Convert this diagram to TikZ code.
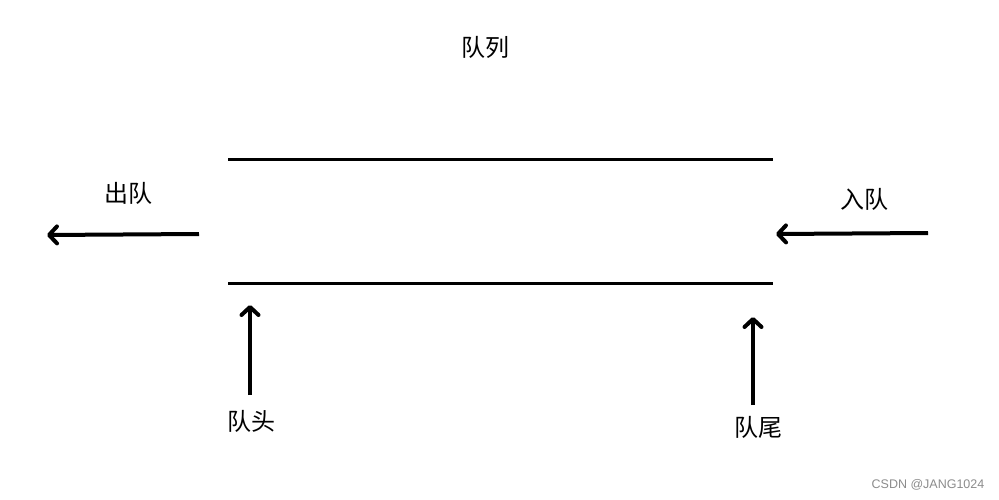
\documentclass[tikz,border=0pt]{standalone}
\usepackage{fontspec}
\newfontfamily\cjk{Noto Sans CJK SC}
\newfontfamily\wm{Liberation Sans}
\usetikzlibrary{arrows.meta}
\begin{document}
\begin{tikzpicture}[x=1pt,y=-1pt,
  lbl/.style={font=\cjk\fontsize{24}{24}\selectfont, inner sep=0pt},
  wall/.style={line width=3pt},
  arr/.style={line width=4pt, -{Straight Barb[length=8pt,width=17pt,line width=4pt,round]}}]
\useasboundingbox[fill=white] (0,0) rectangle (999,500);
\node[lbl] (title) at (485,47) {队列};
\coordinate (tl) at (228,160);
\coordinate (tr) at (773,160);
\coordinate (bl) at (228,283);
\coordinate (br) at (773,283);
\draw[wall] (tl) -- (tr);
\draw[wall] (bl) -- (br);
\node[lbl] (out) at (128,193) {出队};
\coordinate (outs) at (199,234);
\coordinate (oute) at (47,235);
\draw[arr] (outs) -- (oute);
\node[lbl] (in) at (864,199) {入队};
\coordinate (ins) at (928,233);
\coordinate (ine) at (776,234);
\draw[arr] (ins) -- (ine);
\node[lbl] (head) at (251,421) {队头};
\coordinate (hs) at (250,395);
\coordinate (he) at (250,305);
\draw[arr] (hs) -- (he);
\node[lbl] (tail) at (758,427) {队尾};
\coordinate (ts) at (753,405);
\coordinate (te) at (753,317);
\draw[arr] (ts) -- (te);
\node[font=\wm\fontsize{12.5}{12.5}\selectfont, text=black!45, inner sep=0pt] (mark) at (928,485) {CSDN @JANG1024};
\end{tikzpicture}
\end{document}
